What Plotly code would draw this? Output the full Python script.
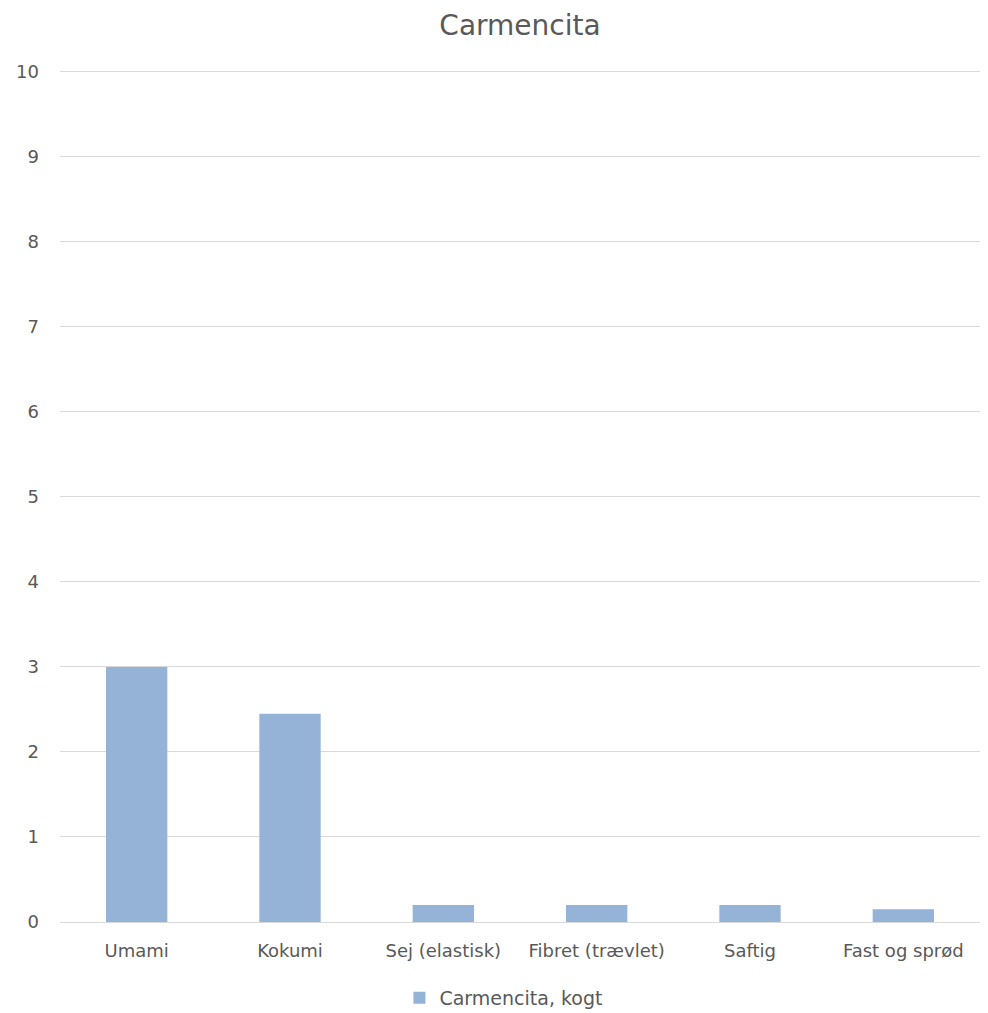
import plotly.graph_objects as go

categories = ["Umami", "Kokumi", "Sej (elastisk)", "Fibret (trævlet)", "Saftig", "Fast og sprød"]
values = [3.0, 2.45, 0.2, 0.2, 0.2, 0.15]
series_name = "Carmencita, kogt"
title_text = "Carmencita"
y_ticks = list(range(0, 11))

font_family = "'DejaVu Sans', sans-serif"
text_color = "#595959"

fig = go.Figure()
fig.add_trace(go.Bar(
    x=categories, y=values, name=series_name,
    marker=dict(color="#95B3D7", line=dict(width=0)),
    width=0.4,
))

fig.update_layout(
    width=980, height=1005,
    paper_bgcolor="white", plot_bgcolor="white",
    margin=dict(l=52, r=8, t=62, b=91, autoexpand=False),
    title=dict(text=title_text, x=0.5, xanchor="center", xref="paper",
               y=1 - 17 / 1005, yanchor="middle", yref="container",
               font=dict(family=font_family, size=28, color=text_color)),
    font=dict(family=font_family, color=text_color, size=18),
    showlegend=True,
    legend=dict(orientation="h", x=0.482, xanchor="center", xref="paper",
                y=1 - 990 / 1005, yanchor="middle", yref="container",
                font=dict(size=19, color=text_color), itemwidth=30),
    bargap=0.6,
)
fig.update_xaxes(showgrid=False, showline=True, linecolor="#D9D9D9", linewidth=1,
                 ticks="", ticklabelstandoff=12, automargin=False,
                 tickfont=dict(size=18, color=text_color))
fig.update_yaxes(range=[0, 10.02], tickvals=y_ticks, showgrid=True, gridcolor="#D9D9D9",
                 gridwidth=1, zeroline=False, showline=False, ticks="", automargin=False,
                 ticklabelstandoff=20, tickfont=dict(size=18, color=text_color))

fig.write_html("out.html")
